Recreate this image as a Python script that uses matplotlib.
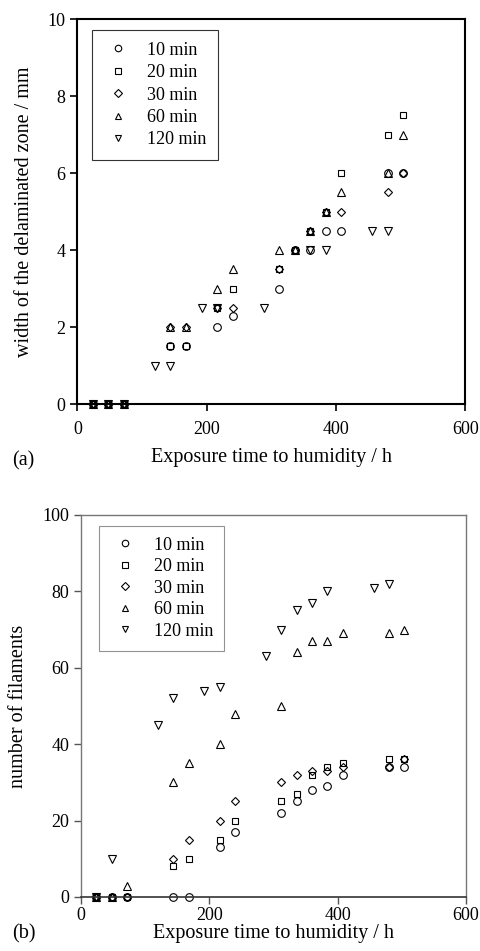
import numpy as np
import matplotlib.pyplot as plt

plt.rcParams['font.family'] = 'Liberation Serif'
plt.rcParams['font.size'] = 12

labels = ['10 min', '20 min', '30 min', '60 min', '120 min']
markers = ['o', 's', 'D', '^', 'v']
msizes = [5.5, 5, 4.5, 5.5, 5.5]

# (a) width of delaminated zone / mm
t_a = [24, 48, 72, 144, 168, 216, 240, 312, 336, 360, 384, 408, 480, 504]
w10 = [0, 0, 0, 1.5, 1.5, 2.0, 2.3, 3.0, 4.0, 4.0, 4.5, 4.5, 6.0, 6.0]
w20 = [0, 0, 0, 1.5, 1.5, 2.5, 3.0, 3.5, 4.0, 4.5, 5.0, 6.0, 7.0, 7.5]
w30 = [0, 0, 0, 2.0, 2.0, 2.5, 2.5, 3.5, 4.0, 4.5, 5.0, 5.0, 5.5, 6.0]
w60 = [0, 0, 0, 2.0, 2.0, 3.0, 3.5, 4.0, 4.0, 4.5, 5.0, 5.5, 6.0, 7.0]
t_a120 = [24, 48, 72, 120, 144, 192, 216, 288, 360, 384, 456, 480]
w120 = [0, 0, 0, 1.0, 1.0, 2.5, 2.5, 2.5, 4.0, 4.0, 4.5, 4.5]

# (b) number of filaments
t_b = [24, 48, 72, 144, 168, 216, 240, 312, 336, 360, 384, 408, 480, 504]
n10 = [0, 0, 0, 0, 0, 13, 17, 22, 25, 28, 29, 32, 34, 34]
n20 = [0, 0, 0, 8, 10, 15, 20, 25, 27, 32, 34, 35, 36, 36]
n30 = [0, 0, 0, 10, 15, 20, 25, 30, 32, 33, 33, 34, 34, 36]
n60 = [0, 0, 3, 30, 35, 40, 48, 50, 64, 67, 67, 69, 69, 70]
t_b120 = [24, 48, 120, 144, 192, 216, 288, 312, 336, 360, 384, 456, 480]
n120 = [0, 10, 45, 52, 54, 55, 63, 70, 75, 77, 80, 81, 82]

fig = plt.figure(figsize=(4.81, 9.51), dpi=100)

ax1 = fig.add_axes([0.161, 0.575, 0.806, 0.405])
xa = [t_a, t_a, t_a, t_a, t_a120]
ya = [w10, w20, w30, w60, w120]
for i in range(5):
    ax1.plot(xa[i], ya[i], linestyle='none', marker=markers[i], ms=msizes[i],
             mfc='none', mec='black', mew=0.8, label=labels[i], clip_on=False)
ax1.set_xlim(0, 600)
ax1.set_ylim(0, 10)
ax1.set_xticks([0, 200, 400, 600])
ax1.set_yticks([0, 2, 4, 6, 8, 10])
for s in ax1.spines.values():
    s.set_linewidth(1.5)
ax1.tick_params(direction='out', length=5, width=1.2, labelsize=13)
ax1.tick_params(axis='x', pad=7)
ax1.set_xlabel('Exposure time to humidity / h', fontsize=14.5, labelpad=7)
ax1.set_ylabel('width of the delaminated zone / mm', fontsize=14.5, labelpad=10)
leg = ax1.legend(loc='upper left', bbox_to_anchor=(0.015, 0.995), fancybox=False,
                 edgecolor='black', handletextpad=0.8, labelspacing=0.3,
                 borderpad=0.65, handlelength=1.6, fontsize=13, markerscale=0.85)
leg.get_frame().set_linewidth(0.8)
fig.text(0.025, 0.511, '(a)', fontsize=14.5)

ax2 = fig.add_axes([0.168, 0.0568, 0.801, 0.4017])
xb = [t_b, t_b, t_b, t_b, t_b120]
yb = [n10, n20, n30, n60, n120]
for i in range(5):
    ax2.plot(xb[i], yb[i], linestyle='none', marker=markers[i], ms=msizes[i],
             mfc='none', mec='black', mew=0.8, label=labels[i], clip_on=False)
ax2.set_xlim(0, 600)
ax2.set_ylim(0, 100)
ax2.set_xticks([0, 200, 400, 600])
ax2.set_yticks([0, 20, 40, 60, 80, 100])
for k in ['top', 'right', 'left']:
    ax2.spines[k].set_color('#777777')
    ax2.spines[k].set_linewidth(1.0)
ax2.spines['bottom'].set_color('#333333')
ax2.spines['bottom'].set_linewidth(1.2)
ax2.tick_params(direction='out', length=5, width=1.0, labelsize=13, color='#555555')
ax2.tick_params(axis='x', pad=2)
ax2.set_xlabel('Exposure time to humidity / h', fontsize=14.5, labelpad=0)
ax2.set_ylabel('number of filaments', fontsize=14.5, labelpad=10)
leg2 = ax2.legend(loc='upper left', bbox_to_anchor=(0.025, 0.995), fancybox=False,
                  edgecolor='#777777', handletextpad=0.8, labelspacing=0.25,
                  borderpad=0.6, handlelength=1.6, fontsize=13, markerscale=0.85)
leg2.get_frame().set_linewidth(0.8)
fig.text(0.025, 0.013, '(b)', fontsize=14.5)

fig.savefig('out.png', dpi=100)
